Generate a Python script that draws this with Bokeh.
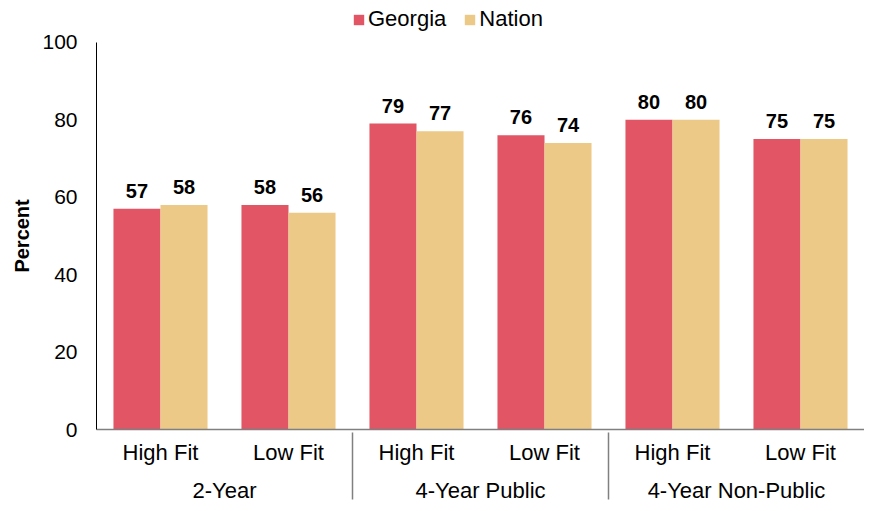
from bokeh.plotting import figure
from bokeh.models import FactorRange, Legend, LegendItem, ColumnDataSource, Range1d
from bokeh.transform import dodge
from bokeh.core.properties import value
from bokeh.embed import file_html
from bokeh.resources import INLINE

groups = ["2-Year", "4-Year Public", "4-Year Non-Public"]
subs = ["High Fit", "Low Fit"]
series = ["Georgia", "Nation"]
georgia = [57, 58, 79, 76, 80, 75]
nation = [58, 56, 77, 74, 80, 75]
y_ticks = [0, 20, 40, 60, 80, 100]

colors = {"Georgia": "#E25564", "Nation": "#ECC987"}
FONT = "Liberation Sans"

factors = [(g, s) for g in groups for s in subs]
src = ColumnDataSource(dict(
    x=factors,
    georgia=georgia,
    nation=nation,
    g_lab=[str(v) for v in georgia],
    n_lab=[str(v) for v in nation],
))

FW, FH = 768, 426
xr = FactorRange(*factors, group_padding=0, range_padding=0)
p = figure(x_range=xr, y_range=Range1d(0, 110), frame_width=FW, frame_height=FH,
           output_backend="svg", toolbar_location=None,
           min_border_left=96, min_border_top=3, min_border_bottom=74,
           min_border_right=0)

bw = 0.3675
off = bw / 2
r_g = p.vbar(x=dodge("x", -off, range=p.x_range), top="georgia", width=bw,
             source=src, fill_color=colors["Georgia"], line_color=None)
r_n = p.vbar(x=dodge("x", off, range=p.x_range), top="nation", width=bw,
             source=src, fill_color=colors["Nation"], line_color=None)

for col, lab, o in (("georgia", "g_lab", -off), ("nation", "n_lab", off)):
    p.text(x=dodge("x", o, range=p.x_range), y=col, text=lab, source=src,
           text_align="center", text_baseline="bottom", y_offset=-11,
           text_font=value(FONT), text_font_size="20px",
           text_font_style="bold", text_color="black")

legend = Legend(items=[LegendItem(label=series[0], renderers=[r_g]),
                       LegendItem(label=series[1], renderers=[r_n])],
                orientation="horizontal", location=(256, 397),
                border_line_color=None, background_fill_alpha=0,
                label_text_font=FONT, label_text_font_size="22px",
                label_text_color="black",
                glyph_width=13, glyph_height=13, label_standoff=3,
                spacing=17, padding=0, margin=0)
p.add_layout(legend, "center")

p.xgrid.visible = False
p.ygrid.visible = False
p.outline_line_color = None

p.yaxis.ticker = y_ticks
p.yaxis.bounds = (0, 100)
p.yaxis.major_tick_line_color = None
p.yaxis.minor_tick_line_color = None
p.yaxis.major_tick_out = 0
p.yaxis.minor_tick_out = 0
p.yaxis.axis_line_color = "black"
p.yaxis.major_label_text_font = FONT
p.yaxis.major_label_text_font_size = "21px"
p.yaxis.major_label_text_color = "black"
p.yaxis.major_label_standoff = 19
# trailing no-break spaces keep the label centred on the 0-100 span
p.yaxis.axis_label = "Percent" + "\u00a0" * 7
p.yaxis.axis_label_text_font = FONT
p.yaxis.axis_label_text_font_size = "20px"
p.yaxis.axis_label_text_font_style = "bold"
p.yaxis.axis_label_text_color = "black"
p.yaxis.axis_label_standoff = 6

xa = p.xaxis[0]
xa.major_tick_line_color = None
xa.minor_tick_line_color = None
xa.major_tick_out = 0
xa.minor_tick_out = 0
xa.axis_line_color = "#808080"
xa.axis_line_width = 1.5
xa.major_label_text_font = FONT
xa.major_label_text_font_size = "22px"
xa.major_label_text_color = "black"
xa.group_text_font = FONT
xa.group_text_font_size = "22px"
xa.group_text_color = "black"
xa.group_text_font_style = "normal"
xa.separator_line_color = "#808080"
xa.separator_line_width = 1.5
xa.major_label_standoff = 10

open("out.html", "w").write(file_html(p, INLINE))
